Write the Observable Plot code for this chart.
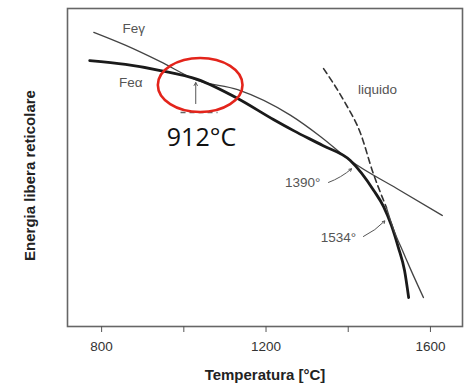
<!DOCTYPE html>
<html>
<head>
<meta charset="utf-8">
<script src="https://cdn.jsdelivr.net/npm/d3@7"></script>
<script src="https://cdn.jsdelivr.net/npm/@observablehq/plot@0.6"></script>
<style>
  html, body { margin: 0; padding: 0; background: #fff; }
  #chart svg { display: block; }
</style>
</head>
<body>
<div id="chart"></div>
<script>
// Temperature (°C) and relative lattice free energy (arbitrary units)
const alphaT = [771, 858, 943, 1033, 1131, 1218, 1267, 1338, 1405, 1462, 1486, 1505, 1522, 1537, 1547];
const alphaE = [83.6, 82.4, 80.5, 77.7, 71.7, 65.1, 61.6, 56.9, 52.2, 42.8, 37.7, 31.8, 24.8, 17.6, 9.1];

const gammaT = [781, 859, 943, 1033, 1131, 1260, 1333, 1405, 1518, 1629];
const gammaE = [92.5, 88.4, 83.3, 77.4, 74.5, 66.4, 59.7, 52.2, 43.4, 34.9];

const liquidDashT = [1340, 1389, 1430, 1461, 1483, 1493];
const liquidDashE = [81.1, 71.1, 60.7, 48.1, 40.6, 37.4];
const liquidSolidT = [1493, 1503, 1517, 1532, 1551, 1583];
const liquidSolidE = [37.4, 33.3, 28.3, 23.9, 18.2, 9.1];

const xTicks = [800, 1000, 1200, 1400, 1600];
const xTickLabels = [800, 1200, 1600];

// Annotation labels
const labelText = ["Feγ", "Feα", "liquido", "1390°", "1534°"];
const labelT = [878, 871, 1471, 1289, 1376];
const labelE = [93.7, 76.7, 74.5, 45.3, 28.0];

// Leader arrows for transition temperatures
const leaderT1 = [1352, 1437];
const leaderE1 = [45.3, 28.3];
const leaderT2 = [1408, 1489];
const leaderE2 = [49.6, 33.2];

// 912 °C marker
const markT = 1029;
const markE1 = 70.1, markE2 = 76.7;
const dashT = [992, 1082];
const dashE = 67.3;
const highlightText = "912°C";
const highlightT = 1043, highlightE = 59.4;
const ellipseT = 1041, ellipseE = 75.8, ellipseDT = 103, ellipseDE = 8.5;

const line = (T, E) => T.map((t, i) => ({t, e: E[i]}));

const chart = Plot.plot({
  width: 470,
  height: 387,
  marginLeft: 67,
  marginRight: 8,
  marginTop: 8,
  marginBottom: 61,
  style: {fontFamily: "'Liberation Sans', Arial, sans-serif", background: "#fff"},
  x: {domain: [717, 1678]},
  y: {domain: [0, 100], axis: null},
  marks: [
    Plot.frame({stroke: "#666", strokeWidth: 1.6}),
    Plot.axisX({
      ticks: xTicks,
      tickSize: 6,
      tickPadding: 9,
      stroke: "#555",
      fill: "#333",
      fontSize: 13.5,
      label: null,
      tickFormat: d => xTickLabels.includes(d) ? String(d) : ""
    }),
    Plot.line(line(gammaT, gammaE), {x: "t", y: "e", stroke: "#444", strokeWidth: 1.3, curve: "monotone-x"}),
    Plot.line(line(alphaT, alphaE), {x: "t", y: "e", stroke: "#1a1a1a", strokeWidth: 2.8, curve: "monotone-x"}),
    Plot.line(line(liquidDashT, liquidDashE), {x: "t", y: "e", stroke: "#333", strokeWidth: 1.6, strokeDasharray: "6,4", curve: "monotone-x"}),
    Plot.line(line(liquidSolidT, liquidSolidE), {x: "t", y: "e", stroke: "#444", strokeWidth: 1.3, curve: "monotone-x"}),
    Plot.text(labelText, {x: (d, i) => labelT[i], y: (d, i) => labelE[i], text: d => d, fill: "#555", fontSize: 13.5}),
    Plot.arrow(leaderT1, {x1: d => d, y1: (d, i) => leaderE1[i], x2: (d, i) => leaderT2[i], y2: (d, i) => leaderE2[i], stroke: "#555", strokeWidth: 1, headLength: 4, bend: -10}),
    Plot.arrow([markT], {x1: d => d, y1: markE1, x2: d => d, y2: markE2, stroke: "#555", strokeWidth: 1, headLength: 5}),
    Plot.link([dashT], {x1: d => d[0], x2: d => d[1], y1: dashE, y2: dashE, stroke: "#666", strokeWidth: 1.5, strokeDasharray: "5,4"}),
    (index, scales) => {
      const cx = scales.x(ellipseT), cy = scales.y(ellipseE);
      const rx = Math.abs(scales.x(ellipseT + ellipseDT) - cx);
      const ry = Math.abs(scales.y(ellipseE + ellipseDE) - cy);
      return d3.create("svg:ellipse")
        .attr("cx", cx).attr("cy", cy).attr("rx", rx).attr("ry", ry)
        .attr("fill", "none").attr("stroke", "#e3241b").attr("stroke-width", 2.6)
        .node();
    },
    Plot.text([highlightText], {x: highlightT, y: highlightE, text: d => d, fill: "#111", fontSize: 25, fontFamily: "'Open Sans', 'Noto Sans', sans-serif"}),
    Plot.text(["Temperatura [°C]"], {frameAnchor: "bottom", dy: 53, text: d => d, fontWeight: "bold", fontSize: 15, fill: "#222"}),
    Plot.text(["Energia libera reticolare"], {frameAnchor: "left", textAnchor: "middle", dx: -37, dy: 8, rotate: -90, text: d => d, fontWeight: "bold", fontSize: 15, fill: "#222"})
  ]
});
document.getElementById("chart").appendChild(chart);
</script>
</body>
</html>
